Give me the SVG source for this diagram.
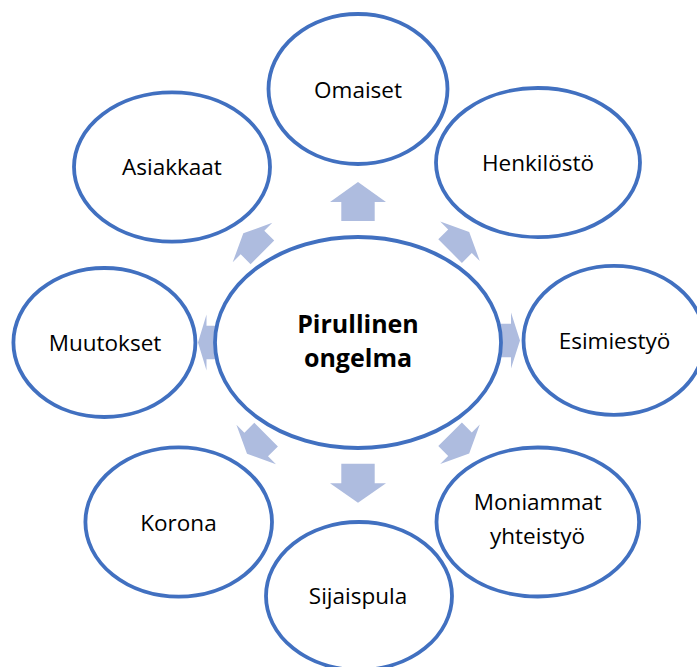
<svg xmlns="http://www.w3.org/2000/svg" width="697" height="667" viewBox="0 0 697 667">
<style>
.n{fill:#fff;stroke:#4170C0;stroke-width:3.8}
.t{font-family:"Open Sans","Liberation Sans",sans-serif;font-size:22.5px;fill:#000;text-anchor:middle}
.b{font-weight:bold;font-size:25px}
.a{fill:#AEBCDF}
</style>
<rect width="697" height="667" fill="#fff"/>
<g id="connectors">
<polygon class="a" transform="translate(358,202) rotate(-90)" points="20,0 0,-28 0,-16.7 -19,-16.7 -19,16.7 0,16.7 0,28"/>
<polygon class="a" transform="translate(460,241.2) rotate(-45)" points="13,0 0,-28 0,-16.7 -14,-16.7 -14,16.7 0,16.7 0,28"/>
<polygon class="a" transform="translate(511,340.5)" points="9,0 0,-28 0,-16.7 -11,-16.7 -11,16.7 0,16.7 0,28"/>
<polygon class="a" transform="translate(460,444.2) rotate(45)" points="13,0 0,-28 0,-16.7 -14,-16.7 -14,16.7 0,16.7 0,28"/>
<polygon class="a" transform="translate(358,483.3) rotate(90)" points="19.5,0 0,-28 0,-16.7 -19.5,-16.7 -19.5,16.7 0,16.7 0,28"/>
<polygon class="a" transform="translate(256.2,444.5) rotate(135)" points="13,0 0,-28 0,-16.7 -14,-16.7 -14,16.7 0,16.7 0,28"/>
<polygon class="a" transform="translate(206.5,342.5) rotate(180)" points="8.5,0 0,-28 0,-16.7 -10,-16.7 -10,16.7 0,16.7 0,28"/>
<polygon class="a" transform="translate(252.5,242.5) rotate(-135)" points="13,0 0,-28 0,-16.7 -14,-16.7 -14,16.7 0,16.7 0,28"/>
</g>
<g id="center"><ellipse class="n" cx="358" cy="342.5" rx="143" ry="105.5"/><text class="t b" x="358" y="333">Pirullinen</text><text class="t b" x="358" y="367">ongelma</text></g>
<g id="omaiset"><ellipse class="n" cx="358" cy="89" rx="89.5" ry="75"/><text class="t" x="358" y="97.5">Omaiset</text></g>
<g id="henkilosto"><ellipse class="n" cx="538" cy="162.6" rx="102" ry="74.6"/><text class="t" x="538" y="171">Henkilöstö</text></g>
<g id="esimiestyo"><ellipse class="n" cx="614" cy="340.4" rx="90.5" ry="74.5"/><text class="t" x="614.5" y="348.5">Esimiestyö</text></g>
<g id="moniammat"><ellipse class="n" cx="537.8" cy="522" rx="101.3" ry="74.5"/><text class="t" x="537.8" y="509.5">Moniammat</text><text class="t" x="537.5" y="544">yhteistyö</text></g>
<g id="sijaispula"><ellipse class="n" cx="359" cy="596" rx="93" ry="74"/><text class="t" x="358" y="604">Sijaispula</text></g>
<g id="korona"><ellipse class="n" cx="178.7" cy="522" rx="93.3" ry="74.7"/><text class="t" x="178.5" y="530.5">Korona</text></g>
<g id="muutokset"><ellipse class="n" cx="104.4" cy="342.5" rx="91" ry="74.5"/><text class="t" x="105" y="350.5">Muutokset</text></g>
<g id="asiakkaat"><ellipse class="n" cx="172" cy="167" rx="98" ry="74.6"/><text class="t" x="172" y="175">Asiakkaat</text></g>
</svg>
